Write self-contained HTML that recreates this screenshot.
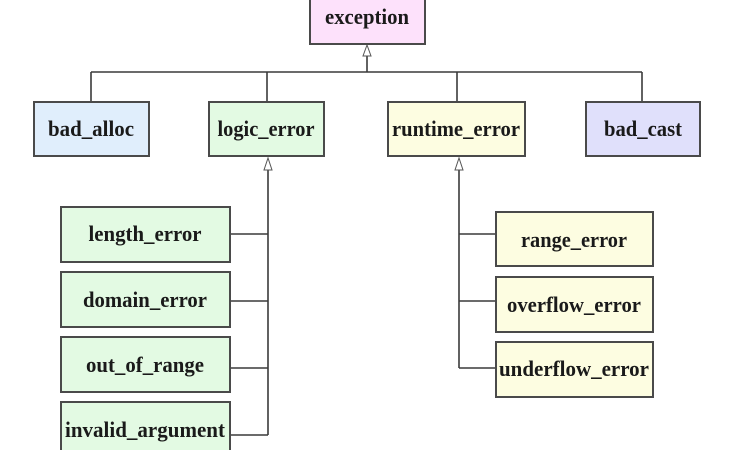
<!DOCTYPE html>
<html><head><meta charset="utf-8"><style>
html,body{margin:0;padding:0;background:#fff;width:730px;height:450px;overflow:hidden}
text{font-family:"Liberation Serif",serif;font-weight:bold;font-size:22px;fill:#1a1a1a}
rect{stroke:#4a4a4a;stroke-width:2}
line,polyline{stroke:#3a3a3a;stroke-width:1.6;fill:none}
</style></head><body>
<svg width="730" height="450" xmlns="http://www.w3.org/2000/svg">
<line x1="367" y1="55" x2="367" y2="72"/>
<line x1="91" y1="72" x2="642" y2="72"/>
<line x1="91" y1="72" x2="91" y2="102"/>
<line x1="267" y1="72" x2="267" y2="102"/>
<line x1="457" y1="72" x2="457" y2="102"/>
<line x1="642" y1="72" x2="642" y2="102"/>
<polygon points="367,45 363,56 371,56" fill="#fff" stroke="#555" stroke-width="1"/>

<line x1="268" y1="170" x2="268" y2="435"/>
<line x1="230" y1="234" x2="268" y2="234"/>
<line x1="230" y1="301" x2="268" y2="301"/>
<line x1="230" y1="368" x2="268" y2="368"/>
<line x1="230" y1="435" x2="268" y2="435"/>
<polygon points="268,158 264,170 272,170" fill="#fff" stroke="#555" stroke-width="1"/>

<line x1="459" y1="170" x2="459" y2="368"/>
<line x1="459" y1="234" x2="496" y2="234"/>
<line x1="459" y1="301" x2="496" y2="301"/>
<line x1="459" y1="368" x2="496" y2="368"/>
<polygon points="459,158 455,170 463,170" fill="#fff" stroke="#555" stroke-width="1"/>

<rect x="310" y="-2" width="115" height="46" fill="#fde1fb"/>
<text x="367" y="24" text-anchor="middle" textLength="84" lengthAdjust="spacingAndGlyphs">exception</text>

<rect x="34" y="102" width="115" height="54" fill="#e0eefc"/>
<text x="91" y="136" text-anchor="middle" textLength="86" lengthAdjust="spacingAndGlyphs">bad_alloc</text>
<rect x="209" y="102" width="115" height="54" fill="#e3fae3"/>
<text x="266" y="136" text-anchor="middle" textLength="97" lengthAdjust="spacingAndGlyphs">logic_error</text>
<rect x="388" y="102" width="137" height="54" fill="#fdfde1"/>
<text x="456" y="136" text-anchor="middle" textLength="128" lengthAdjust="spacingAndGlyphs">runtime_error</text>
<rect x="586" y="102" width="114" height="54" fill="#e0e0fb"/>
<text x="643" y="136" text-anchor="middle" textLength="78" lengthAdjust="spacingAndGlyphs">bad_cast</text>

<rect x="61" y="207" width="169" height="55" fill="#e3fae3"/>
<text x="145" y="241" text-anchor="middle" textLength="113" lengthAdjust="spacingAndGlyphs">length_error</text>
<rect x="61" y="272" width="169" height="55" fill="#e3fae3"/>
<text x="145" y="307" text-anchor="middle" textLength="124" lengthAdjust="spacingAndGlyphs">domain_error</text>
<rect x="61" y="337" width="169" height="55" fill="#e3fae3"/>
<text x="145" y="372" text-anchor="middle" textLength="118" lengthAdjust="spacingAndGlyphs">out_of_range</text>
<rect x="61" y="402" width="169" height="60" fill="#e3fae3"/>
<text x="145" y="437" text-anchor="middle" textLength="160" lengthAdjust="spacingAndGlyphs">invalid_argument</text>

<rect x="496" y="212" width="157" height="54" fill="#fdfde1"/>
<text x="574" y="247" text-anchor="middle" textLength="106" lengthAdjust="spacingAndGlyphs">range_error</text>
<rect x="496" y="277" width="157" height="55" fill="#fdfde1"/>
<text x="574" y="312" text-anchor="middle" textLength="134" lengthAdjust="spacingAndGlyphs">overflow_error</text>
<rect x="496" y="342" width="157" height="55" fill="#fdfde1"/>
<text x="574" y="376" text-anchor="middle" textLength="150" lengthAdjust="spacingAndGlyphs">underflow_error</text>
</svg>
</body></html>
